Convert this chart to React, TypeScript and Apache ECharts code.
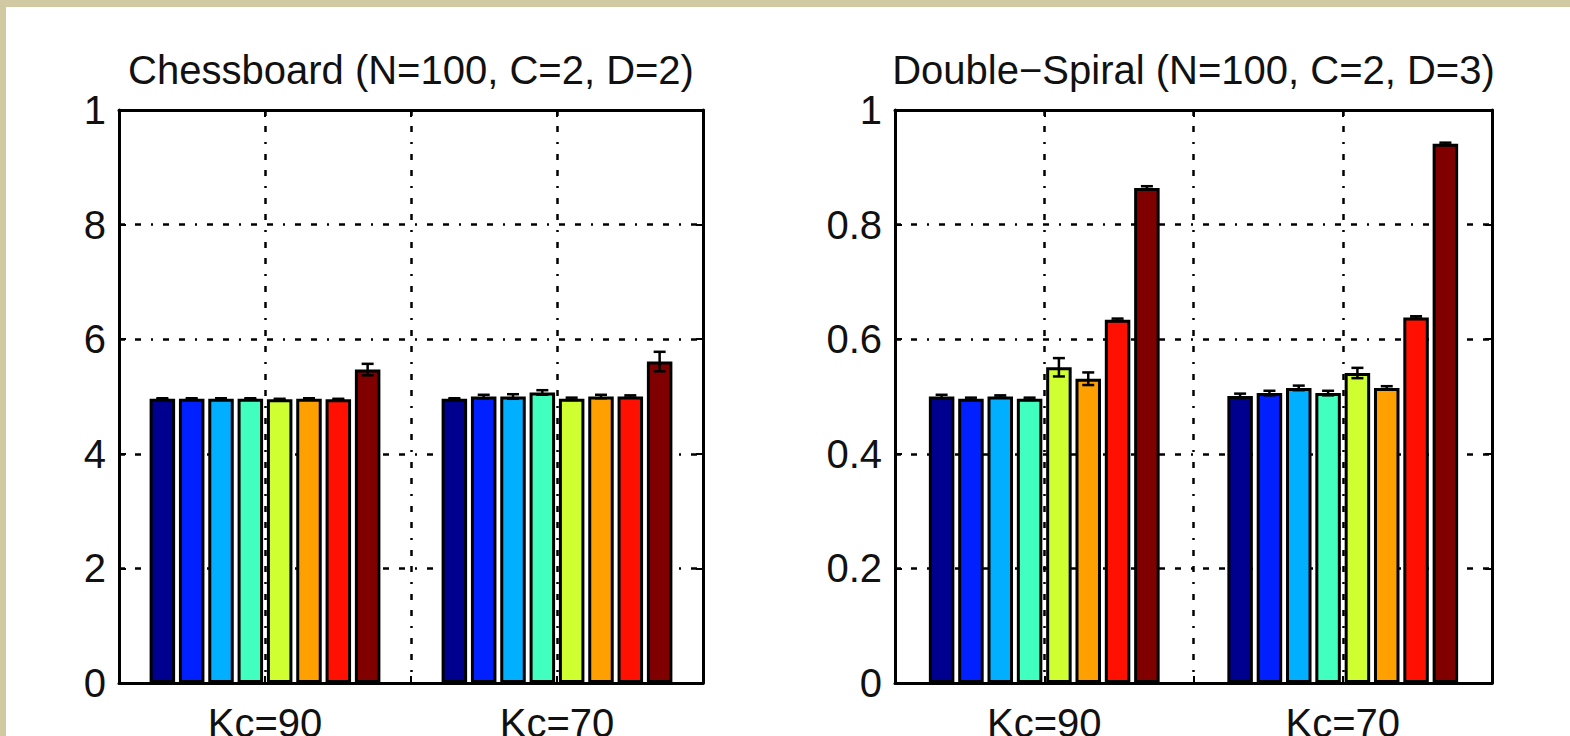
import React, { useEffect, useRef } from "react";
import * as echarts from "echarts";

const categories = ["Kc=90", "Kc=70"];
const chessTitle = "Chessboard (N=100, C=2, D=2)";
const spiralTitle = "Double\u2212Spiral (N=100, C=2, D=3)";
const chessTickLabels = ["0", "2", "4", "6", "8", "1"];
const spiralTickLabels = ["0", "0.2", "0.4", "0.6", "0.8", "1"];

const barColors = ["#00008F", "#0020FF", "#00AFFF", "#40FFBF", "#CFFF30", "#FFA000", "#FF1000", "#800000"];

// [Kc=90, Kc=70] per method
const chessMeans = [
  [0.496, 0.496],
  [0.496, 0.5],
  [0.496, 0.5],
  [0.496, 0.507],
  [0.495, 0.496],
  [0.496, 0.5],
  [0.495, 0.5],
  [0.547, 0.561],
];
const chessErrors = [
  [0.001, 0.001],
  [0.001, 0.003],
  [0.001, 0.004],
  [0.001, 0.004],
  [0.001, 0.002],
  [0.001, 0.003],
  [0.001, 0.002],
  [0.01, 0.017],
];
const spiralMeans = [
  [0.5, 0.501],
  [0.496, 0.506],
  [0.5, 0.515],
  [0.496, 0.506],
  [0.551, 0.541],
  [0.531, 0.515],
  [0.634, 0.638],
  [0.864, 0.941],
];
const spiralErrors = [
  [0.003, 0.004],
  [0.002, 0.004],
  [0.002, 0.004],
  [0.002, 0.004],
  [0.016, 0.009],
  [0.011, 0.003],
  [0.002, 0.002],
  [0.003, 0.002],
];

const FONT = "Liberation Sans, Arial, sans-serif";
const TEXT_COLOR = "#111";
const BAR_W = 25.5;
const BAR_GAP = 0.15;
const STEP = BAR_W * (1 + BAR_GAP);
const CAP = 6;
const GRID_DASH = [6, 10, 6, 10, 2, 10];

const grids = [
  { left: 119, top: 110, width: 584, height: 573 },
  { left: 895, top: 110, width: 597, height: 573 },
];

function buildOption() {
  const xAxis: any[] = [];
  const yAxis: any[] = [];
  const series: any[] = [];
  const panels = [
    { means: chessMeans, errs: chessErrors, ticks: chessTickLabels },
    { means: spiralMeans, errs: spiralErrors, ticks: spiralTickLabels },
  ];
  panels.forEach((p, g) => {
    const base = xAxis.length;
    xAxis.push({
      type: "category",
      gridIndex: g,
      data: categories,
      position: "bottom",
      axisLine: { show: true, lineStyle: { color: "#000", width: 3 } },
      axisTick: { show: false },
      axisLabel: { fontSize: 40, color: TEXT_COLOR, fontFamily: FONT, margin: 20, verticalAlign: "top" },
      splitLine: { show: false },
    });
    xAxis.push({
      type: "value",
      gridIndex: g,
      min: 0.5,
      max: 2.5,
      interval: 0.5,
      position: "top",
      axisLine: { show: true, onZero: false, lineStyle: { color: "#000", width: 3 } },
      axisTick: { show: true, inside: true, length: 7, lineStyle: { color: "#000", width: 2 } },
      axisLabel: { show: false },
      splitLine: { show: true, lineStyle: { color: "#000", width: 2.5, type: GRID_DASH } },
    });
    xAxis.push({
      type: "value",
      gridIndex: g,
      min: 0.5,
      max: 2.5,
      interval: 0.5,
      position: "bottom",
      axisLine: { show: false, onZero: false },
      axisTick: { show: true, inside: true, length: 7, lineStyle: { color: "#000", width: 2 } },
      axisLabel: { show: false },
      splitLine: { show: false },
    });
    const yBase = yAxis.length;
    yAxis.push({
      type: "value",
      gridIndex: g,
      min: 0,
      max: 1,
      interval: 0.2,
      position: "left",
      axisLine: { show: true, onZero: false, lineStyle: { color: "#000", width: 3 } },
      axisTick: { show: true, inside: true, length: 7, lineStyle: { color: "#000", width: 2 } },
      axisLabel: {
        fontSize: 40,
        color: TEXT_COLOR,
        fontFamily: FONT,
        margin: 13,
        formatter: (v: number) => p.ticks[Math.round(v / 0.2)],
      },
      splitLine: { show: true, lineStyle: { color: "#000", width: 2.5, type: GRID_DASH } },
    });
    yAxis.push({
      type: "value",
      gridIndex: g,
      min: 0,
      max: 1,
      interval: 0.2,
      position: "right",
      axisLine: { show: true, onZero: false, lineStyle: { color: "#000", width: 3 } },
      axisTick: { show: true, inside: true, length: 7, lineStyle: { color: "#000", width: 2 } },
      axisLabel: { show: false },
      splitLine: { show: false },
    });
    p.means.forEach((vals, i) => {
      series.push({
        type: "bar",
        xAxisIndex: base,
        yAxisIndex: yBase,
        data: vals,
        barWidth: BAR_W,
        barGap: BAR_GAP * 100 + "%",
        itemStyle: { color: barColors[i], borderColor: "#000", borderWidth: 3 },
        z: 2,
      });
    });
    const errData: number[][] = [];
    p.means.forEach((vals, i) => {
      vals.forEach((v, c) => errData.push([c, v, p.errs[i][c], i]));
    });
    series.push({
      type: "custom",
      xAxisIndex: base,
      yAxisIndex: yBase,
      data: errData,
      encode: { x: 0, y: 1 },
      z: 5,
      renderItem: (params: any, api: any) => {
        const c = api.value(0);
        const v = api.value(1);
        const e = api.value(2);
        const idx = api.value(3);
        const center = api.coord([c, v]);
        const top = api.coord([c, v + e])[1];
        const bot = api.coord([c, v - e])[1];
        const x = center[0] + (idx - 3.5) * STEP;
        const st = { stroke: "#000", lineWidth: 2.5 };
        return {
          type: "group",
          children: [
            { type: "line", shape: { x1: x, y1: top, x2: x, y2: bot }, style: st },
            { type: "line", shape: { x1: x - CAP, y1: top, x2: x + CAP, y2: top }, style: st },
            { type: "line", shape: { x1: x - CAP, y1: bot, x2: x + CAP, y2: bot }, style: st },
          ],
        };
      },
    });
  });

  return {
    animation: false,
    backgroundColor: "#FFFFFF",
    grid: grids.map((g) => ({ ...g, containLabel: false, outerBoundsMode: "none" })),
    xAxis,
    yAxis,
    series,
    graphic: [
      { type: "rect", shape: { x: 0, y: 0, width: 1570, height: 7 }, style: { fill: "#D0C9A2" }, silent: true },
      { type: "rect", shape: { x: 0, y: 0, width: 6, height: 736 }, style: { fill: "#D0C9A2" }, silent: true },
      {
        type: "text",
        x: grids[0].left + grids[0].width / 2,
        y: 70,
        style: { text: chessTitle, fontSize: 40, fontFamily: FONT, fill: TEXT_COLOR, align: "center", verticalAlign: "middle" },
      },
      {
        type: "text",
        x: grids[1].left + grids[1].width / 2,
        y: 70,
        style: { text: spiralTitle, fontSize: 40, fontFamily: FONT, fill: TEXT_COLOR, align: "center", verticalAlign: "middle" },
      },
    ],
  };
}

export default function App() {
  const ref = useRef<HTMLDivElement>(null);
  useEffect(() => {
    if (!ref.current) return;
    const chart = echarts.init(ref.current, null, { renderer: "svg" });
    chart.setOption(buildOption() as any);
    return () => chart.dispose();
  }, []);
  return (
    <div
      ref={ref}
      style={{ position: "fixed", left: 0, top: 0, width: 1570, height: 736, background: "#fff" }}
    />
  );
}
